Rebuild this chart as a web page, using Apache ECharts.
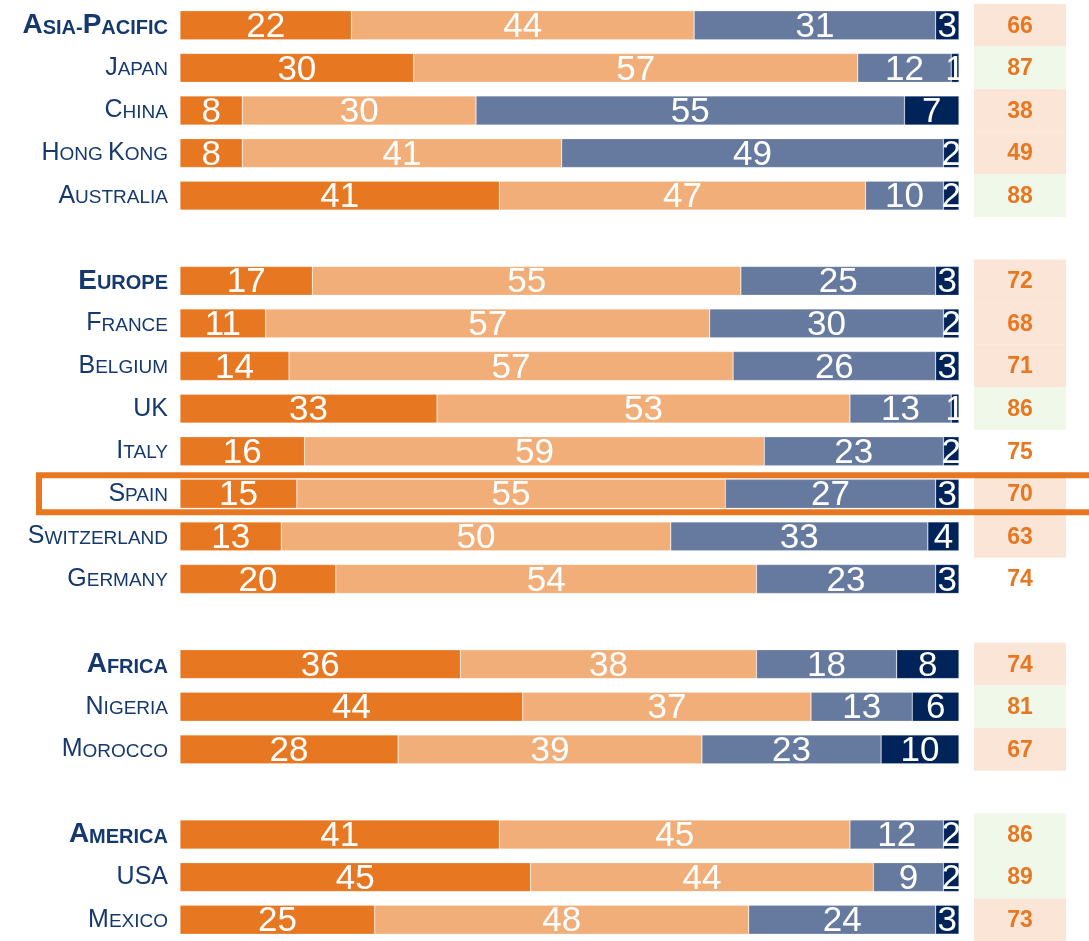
<!DOCTYPE html>
<html>
<head>
<meta charset="utf-8">
<script src="https://cdn.jsdelivr.net/npm/echarts@6/dist/echarts.min.js"></script>
<style>
html,body{margin:0;padding:0;background:#fff;}
#chart{width:1089px;height:941px;}
</style>
</head>
<body>
<div id="chart"></div>
<script>
// Rows top to bottom (blank strings are spacer rows between groups)
const categories = ['Asia-Pacific','Japan','China','Hong Kong','Australia','',
  'Europe','France','Belgium','UK','Italy','Spain','Switzerland','Germany',' ',
  'Africa','Nigeria','Morocco','  ',
  'America','USA','Mexico'];
const regions = ['Asia-Pacific','Europe','Africa','America'];
const highlighted = 'Spain';

const seg1 = [22,30,8,8,41,'-',17,11,14,33,16,15,13,20,'-',36,44,28,'-',41,45,25];
const seg2 = [44,57,30,41,47,'-',55,57,57,53,59,55,50,54,'-',38,37,39,'-',45,44,48];
const seg3 = [31,12,55,49,10,'-',25,30,26,13,23,27,33,23,'-',18,13,23,'-',12,9,24];
const seg4 = [3,1,7,2,2,'-',3,2,3,1,2,3,4,3,'-',8,6,10,'-',2,2,3];
// right column shading class per row
const boxFlag = ['low','high','low','low','high','',
  'low','low','low','high','','low','low','','',
  'low','high','low','',
  'high','high','low'];

const totals = seg1.map((v,i)=> v==='-' ? '-' : v + seg2[i]);

const C_DARK = '#E87722', C_LIGHT = '#F2AE79', C_SLATE = '#66799F', C_NAVY = '#00245A';
const NAVY_TXT = '#15396F';
const boxColors = {low:'#FBE5D6', high:'#F0F8E9', '':'rgba(0,0,0,0)'};

function smallCaps(name){
  if(!name.trim()) return '';
  const bold = regions.indexOf(name) >= 0;
  const big = bold ? 'B' : 'b', sm = bold ? 'S' : 's';
  let out = '';
  let cur = null, buf = '';
  for(const ch of name){
    const isBig = ch !== ch.toLowerCase() && ch === ch.toUpperCase();
    const t = isBig ? big : sm;
    if(t !== cur){
      if(buf) out += '{' + cur + '|' + buf + '}';
      cur = t; buf = '';
    }
    buf += ch.toUpperCase();
  }
  if(buf) out += '{' + cur + '|' + buf + '}';
  return out;
}

const chart = echarts.init(document.getElementById('chart'));
const FONT = '"Liberation Sans", Arial, sans-serif';
const segLabel = {
  show: true, position: 'inside', color: '#fff', fontSize: 35,
  fontFamily: FONT, offset: [0, 2], formatter: p => p.value
};
function segSeries(name, data, color){
  return {
    name, type: 'bar', stack: 'all', data, barWidth: '68%',
    xAxisIndex: 0, yAxisIndex: 0,
    itemStyle: {color, borderColor: 'rgba(255,255,255,0.35)', borderWidth: 0.6},
    label: segLabel, emphasis: {disabled: true}, silent: true
  };
}

const option = {
  animation: false,
  grid: [
    {left: 180, width: 779, top: 4, height: 939},
    {left: 974, width: 92, top: 4, height: 939}
  ],
  xAxis: [
    {type: 'value', min: 0, max: 100, show: false, gridIndex: 0},
    {type: 'value', min: 0, max: 1, show: false, gridIndex: 1}
  ],
  yAxis: [
    {type: 'category', data: categories, inverse: true, gridIndex: 0,
     axisLine: {show: false}, axisTick: {show: false}, splitLine: {show: false},
     axisLabel: {
       margin: 12, formatter: smallCaps,
       rich: {
         b: {fontSize: 25, color: NAVY_TXT, fontFamily: FONT, verticalAlign: 'bottom'},
         s: {fontSize: 19, color: NAVY_TXT, fontFamily: FONT, verticalAlign: 'bottom', padding: [0,0,1,0]},
         B: {fontSize: 28, color: NAVY_TXT, fontFamily: FONT, fontWeight: 'bold', verticalAlign: 'bottom'},
         S: {fontSize: 20, color: NAVY_TXT, fontFamily: FONT, fontWeight: 'bold', verticalAlign: 'bottom', padding: [0,0,1,0]}
       }
     }},
    {type: 'category', data: categories, inverse: true, gridIndex: 1, show: false}
  ],
  series: [
    segSeries('Segment 1', seg1, C_DARK),
    segSeries('Segment 2', seg2, C_LIGHT),
    segSeries('Segment 3', seg3, C_SLATE),
    segSeries('Segment 4', seg4, C_NAVY),
    {
      name: 'Total', type: 'bar', xAxisIndex: 1, yAxisIndex: 1, barWidth: '100%',
      silent: true,
      data: totals.map((t,i)=> t==='-' ? '-' : {value: 1, total: t, itemStyle: {color: boxColors[boxFlag[i]]}}),
      label: {show: true, position: 'inside', color: C_DARK, fontSize: 23, fontWeight: 'bold',
              fontFamily: FONT, offset: [0, 1], formatter: p => totals[p.dataIndex]}
    }
  ]
};
chart.setOption(option);

const yc = chart.convertToPixel({yAxisIndex: 0}, highlighted);
chart.setOption({
  graphic: [{
    type: 'rect', z: 100, silent: true,
    shape: {x: 39, y: yc - 18.5, width: 1100, height: 37},
    style: {fill: 'none', stroke: C_DARK, lineWidth: 6}
  }]
});
</script>
</body>
</html>
